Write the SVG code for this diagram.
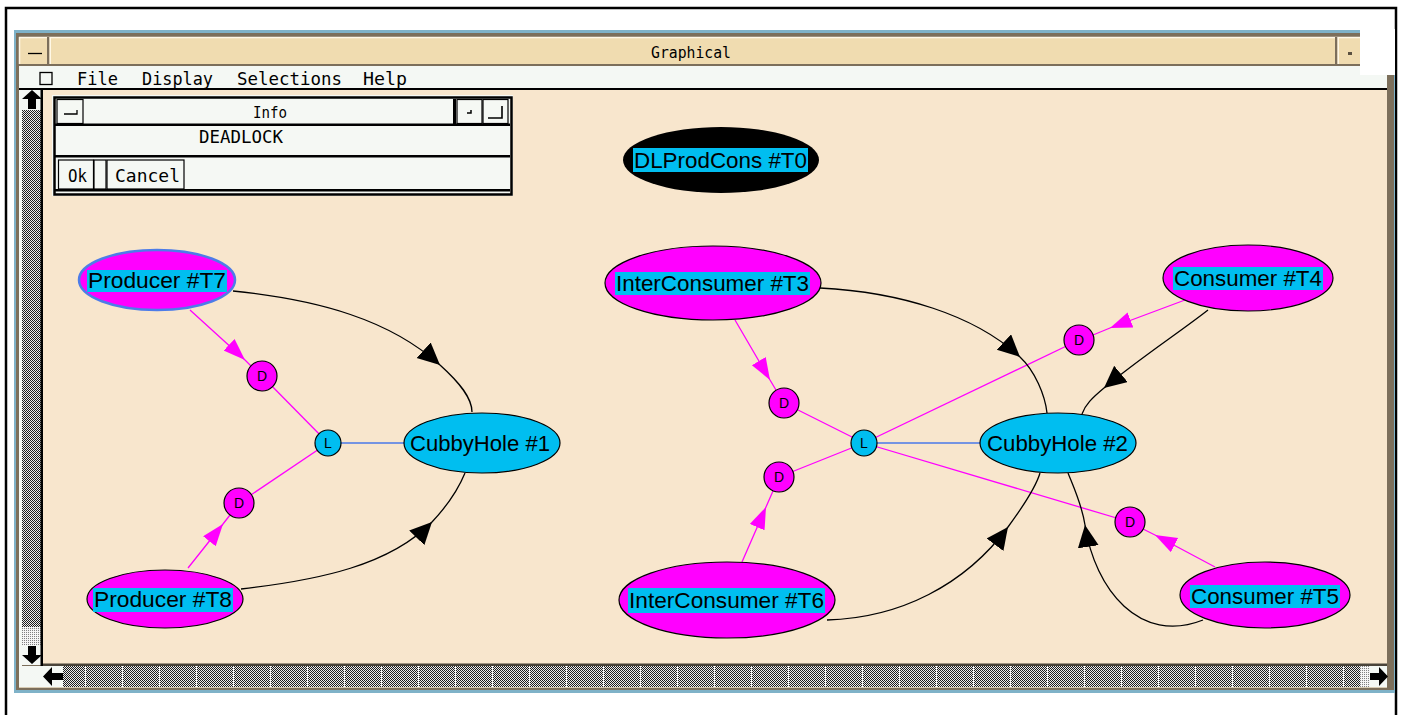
<svg xmlns="http://www.w3.org/2000/svg" width="1404" height="715" viewBox="0 0 1404 715">
  <defs>
    <pattern id="stipple" width="2" height="2" patternUnits="userSpaceOnUse">
      <rect width="2" height="2" fill="#ececec"/>
      <rect width="1" height="1" fill="#1e1e1e"/>
      <rect x="1" y="1" width="1" height="1" fill="#1e1e1e"/>
    </pattern>
    <pattern id="stippleLight" width="2" height="2" patternUnits="userSpaceOnUse">
      <rect width="2" height="2" fill="#f4f4f4"/>
      <rect width="1" height="1" fill="#808080"/>
    </pattern>
    <pattern id="ticks" width="37" height="4" patternUnits="userSpaceOnUse">
      <rect x="11" width="1" height="4" fill="#f4f4f4"/>
    </pattern>
    <marker id="ah-black" markerUnits="userSpaceOnUse" markerWidth="24" markerHeight="22" refX="22" refY="10.5" orient="auto">
      <path d="M0,0 L22,10.5 L0,21 Z" fill="#000"/>
    </marker>
    <marker id="ah-mag" markerUnits="userSpaceOnUse" markerWidth="24" markerHeight="18" refX="22" refY="8" orient="auto">
      <path d="M0,0 L22,8 L0,16 Z" fill="#ff00ff"/>
    </marker>
    <style>
      .mono { font-family: "DejaVu Sans Mono", "Liberation Mono", monospace; fill: #000; }
      .lbl { font-family: "Liberation Sans", Arial, sans-serif; font-size: 22px; fill: #000; }
      .tiny { font-family: "Liberation Sans", Arial, sans-serif; font-size: 14px; fill: #000; text-anchor: middle; }
      .task { fill: #ff00ff; stroke: #000; stroke-width: 1.2; }
      .res { fill: #00bef0; stroke: #000; stroke-width: 1.2; }
      .lblbg { fill: #00bef0; }
      .mag { fill: none; stroke: #ff00ff; stroke-width: 1.3; }
      .blk { fill: none; stroke: #000; stroke-width: 1.3; }
      .lnk { fill: none; stroke: #4a78e8; stroke-width: 1.6; }
      .btn { fill: #f5f8f4; stroke: #000; stroke-width: 1.2; }
      .bevel { fill: #7c6f5b; }
    </style>
  </defs>

  <!-- page background and frame -->
  <rect x="0" y="0" width="1404" height="715" fill="#fff"/>
  <path d="M6,715 V8 H1396 V715" fill="none" stroke="#000" stroke-width="2.5"/>

  <!-- application window -->
  <g id="window">
    <rect x="14" y="30" width="1381" height="663" fill="#7fb2c8"/>
    <rect x="16" y="33" width="1378" height="657" class="bevel"/>
    <!-- title bar -->
    <rect x="19" y="37" width="1341" height="27" fill="#f0dcb0"/>
    <path d="M19,37.5 H1360 M19.5,37 V64" stroke="#fff8e6" stroke-width="1.5"/>
    <rect x="47" y="37" width="2.5" height="27" class="bevel"/>
    <rect x="49.5" y="37" width="1.5" height="27" fill="#fff8e6"/>
    <rect x="1335" y="37" width="2.5" height="27" class="bevel"/>
    <rect x="1337.5" y="37" width="1.5" height="27" fill="#fff8e6"/>
    <path d="M28,53.5 H42" stroke="#000" stroke-width="1.3"/>
    <rect x="1348" y="52" width="4" height="3" fill="#5a5040"/>
    <text class="mono" x="651" y="58" font-size="15" textLength="80" lengthAdjust="spacingAndGlyphs">Graphical</text>
    <!-- menu bar -->
    <rect x="19" y="66" width="1368" height="22" fill="#f4f8f4"/>
    <rect x="19" y="88" width="1368" height="2" fill="#000"/>
    <rect x="40" y="72.5" width="12" height="12" fill="none" stroke="#000" stroke-width="1.3"/>
    <text class="mono" x="77" y="85" font-size="18" textLength="41" lengthAdjust="spacingAndGlyphs">File</text>
    <text class="mono" x="142" y="85" font-size="18" textLength="71" lengthAdjust="spacingAndGlyphs">Display</text>
    <text class="mono" x="237" y="85" font-size="18" textLength="105" lengthAdjust="spacingAndGlyphs">Selections</text>
    <text class="mono" x="363" y="85" font-size="18" textLength="44" lengthAdjust="spacingAndGlyphs">Help</text>
    <!-- drawing canvas -->
    <rect x="43" y="90" width="1344" height="575" fill="#f8e6cd"/>
    <!-- vertical scrollbar -->
    <rect x="19" y="90" width="3" height="598" fill="#f4f8f4"/>
    <rect x="22" y="90" width="19" height="575" fill="url(#stipple)"/>
    <rect x="22" y="627" width="19" height="18" fill="url(#stippleLight)"/>
    <rect x="22" y="90" width="19" height="20" fill="#f4f8f4"/>
    <path d="M32,90 L42,99 L36,99 L36,109 L28,109 L28,99 L22,99 Z" fill="#000"/>
    <rect x="22" y="645" width="19" height="20" fill="#f4f8f4"/>
    <path d="M32,664 L42,655 L36,655 L36,646 L28,646 L28,655 L22,655 Z" fill="#000"/>
    <rect x="40.5" y="90" width="2.5" height="576" fill="#000"/>
    <!-- horizontal scrollbar -->
    <rect x="43" y="663.5" width="1344" height="2.5" fill="#4a443a"/>
    <rect x="43" y="666" width="1344" height="21" fill="url(#stipple)"/>
    <rect x="43" y="666" width="1344" height="21" fill="url(#ticks)"/>
    <rect x="1360" y="666" width="10" height="21" fill="url(#stippleLight)"/>
    <rect x="43" y="666" width="20" height="21" fill="#f4f8f4"/>
    <path d="M43,676.5 L52,667 L52,673 L63,673 L63,680 L52,680 L52,686 Z" fill="#000"/>
    <rect x="1370" y="666" width="17" height="21" fill="#f4f8f4"/>
    <path d="M1388,676.5 L1379,667 L1379,673 L1370,673 L1370,680 L1379,680 L1379,686 Z" fill="#000"/>
    <rect x="22" y="666" width="21" height="21" fill="#f4f8f4"/>
    <path d="M19,687.5 H1387" stroke="#d8ccb4" stroke-width="1"/>
    <!-- corner cut at top right -->
    <rect x="1360" y="29" width="35" height="46" fill="#fff"/>
  </g>

  <!-- info dialog -->
  <g id="info-dialog">
    <rect x="52" y="95" width="461" height="101" fill="#f5f8f4"/>
    <rect x="54.5" y="97.5" width="457" height="97" fill="none" stroke="#000" stroke-width="2.5"/>
    <rect x="57" y="99.5" width="26" height="24" class="btn"/>
    <path d="M64,114 H77 V110" fill="none" stroke="#000" stroke-width="1.3"/>
    <rect x="84" y="99.5" width="370" height="24" fill="#f5f8f4"/>
    <rect x="453" y="99" width="3" height="26" fill="#000"/>
    <rect x="457" y="99.5" width="25" height="24" class="btn"/>
    <path d="M467,113 H471 V110" fill="none" stroke="#000" stroke-width="1.5"/>
    <rect x="483" y="99.5" width="25" height="24" class="btn"/>
    <path d="M488,118 H502 V106" fill="none" stroke="#000" stroke-width="1.6"/>
    <rect x="55" y="123.5" width="455" height="2.5" fill="#000"/>
    <rect x="55" y="155" width="455" height="2.5" fill="#000"/>
    <rect x="58.5" y="160" width="35" height="29" class="btn"/>
    <rect x="94" y="160" width="12" height="29" class="btn"/>
    <rect x="107" y="160" width="77" height="29" class="btn"/>
    <rect x="55" y="189" width="455" height="2.5" fill="#000"/>
    <text class="mono" x="253" y="118" font-size="16" textLength="34" lengthAdjust="spacingAndGlyphs">Info</text>
    <text class="mono" x="199" y="143" font-size="17" textLength="84" lengthAdjust="spacingAndGlyphs">DEADLOCK</text>
    <text class="mono" x="68" y="182" font-size="17" textLength="19" lengthAdjust="spacingAndGlyphs">Ok</text>
    <text class="mono" x="115" y="182" font-size="17" textLength="65" lengthAdjust="spacingAndGlyphs">Cancel</text>
  </g>

  <!-- connectors -->
  <g id="connectors">
    <!-- lock links -->
    <path class="lnk" d="M328,443 H482"/>
    <path class="lnk" d="M864,443 H1058"/>
    <!-- dependency links to the locks -->
    <path class="mag" d="M262,376 L328,443"/>
    <path class="mag" d="M239,503 L328,443"/>
    <path class="mag" d="M784,403 L864,443"/>
    <path class="mag" d="M779,477 L864,443"/>
    <path class="mag" d="M864,443 L1079,340"/>
    <path class="mag" d="M864,443 L1130,522"/>
    <!-- task to dependency -->
    <path class="mag" marker-mid="url(#ah-mag)" d="M190,310 L245,360 L251,366"/>
    <path class="mag" marker-mid="url(#ah-mag)" d="M188,568 L223,524 L230,515"/>
    <path class="mag" marker-mid="url(#ah-mag)" d="M735,320 L770,380 L776,390"/>
    <path class="mag" marker-mid="url(#ah-mag)" d="M742,562 L766,507 L773,491"/>
    <path class="mag" marker-mid="url(#ah-mag)" d="M1185,300 L1110,328 L1093,335"/>
    <path class="mag" marker-mid="url(#ah-mag)" d="M1215,567 L1155,535 L1143,529"/>
    <!-- task to resource -->
    <path class="blk" marker-mid="url(#ah-black)" d="M233,291 C320,300 390,320 440,365 C460,383 472,398 472,412"/>
    <path class="blk" marker-mid="url(#ah-black)" d="M241,589 C320,580 390,565 432,522 C448,505 458,490 465,473"/>
    <path class="blk" marker-mid="url(#ah-black)" d="M820,288 C900,292 975,315 1020,357 C1035,371 1045,395 1047,413"/>
    <path class="blk" marker-mid="url(#ah-black)" d="M1208,310 C1180,332 1140,358 1104,388 C1092,398 1085,405 1082,414"/>
    <path class="blk" marker-mid="url(#ah-black)" d="M827,620 C900,618 965,585 1008,527 C1019,512 1035,490 1040,473"/>
    <path class="blk" marker-mid="url(#ah-black)" d="M1203,620 C1140,645 1095,590 1085,525 C1082,505 1074,488 1068,473"/>
  </g>

  <!-- nodes -->
  <g id="node-t0">
    <ellipse cx="721" cy="160" rx="98" ry="33" fill="#000"/>
    <rect class="lblbg" x="633" y="148" width="175" height="24"/>
    <text class="lbl" x="634" y="168" textLength="173" lengthAdjust="spacingAndGlyphs">DLProdCons #T0</text>
  </g>
  <g id="node-t7">
    <ellipse cx="157" cy="280" rx="78" ry="30" fill="#ff00ff" stroke="#4d7ce8" stroke-width="2.5"/>
    <rect class="lblbg" x="87" y="270" width="140" height="22"/>
    <text class="lbl" x="88" y="288" textLength="138" lengthAdjust="spacingAndGlyphs">Producer #T7</text>
  </g>
  <g id="node-t8">
    <ellipse class="task" cx="165" cy="599" rx="78" ry="29"/>
    <rect class="lblbg" x="93" y="588" width="140" height="24"/>
    <text class="lbl" x="94" y="607" textLength="138" lengthAdjust="spacingAndGlyphs">Producer #T8</text>
  </g>
  <g id="node-ch1">
    <ellipse class="res" cx="482" cy="443" rx="78" ry="30"/>
    <text class="lbl" x="410" y="451" textLength="140" lengthAdjust="spacingAndGlyphs">CubbyHole #1</text>
  </g>
  <g id="node-l1">
    <circle class="res" cx="328" cy="443" r="13"/>
    <text class="tiny" x="328" y="448">L</text>
  </g>
  <g id="node-d1">
    <circle class="task" cx="262" cy="376" r="15"/>
    <text class="tiny" x="262" y="381">D</text>
  </g>
  <g id="node-d2">
    <circle class="task" cx="239" cy="503" r="15"/>
    <text class="tiny" x="239" y="508">D</text>
  </g>
  <g id="node-t3">
    <ellipse class="task" cx="713" cy="283" rx="108" ry="37"/>
    <rect class="lblbg" x="615" y="272" width="195" height="23"/>
    <text class="lbl" x="616" y="291" textLength="193" lengthAdjust="spacingAndGlyphs">InterConsumer #T3</text>
  </g>
  <g id="node-t6">
    <ellipse class="task" cx="727" cy="600" rx="108" ry="38"/>
    <rect class="lblbg" x="628" y="588" width="197" height="25"/>
    <text class="lbl" x="629" y="608" textLength="195" lengthAdjust="spacingAndGlyphs">InterConsumer #T6</text>
  </g>
  <g id="node-t4">
    <ellipse class="task" cx="1248" cy="278" rx="85" ry="33"/>
    <rect class="lblbg" x="1173" y="267" width="150" height="23"/>
    <text class="lbl" x="1174" y="286" textLength="148" lengthAdjust="spacingAndGlyphs">Consumer #T4</text>
  </g>
  <g id="node-t5">
    <ellipse class="task" cx="1265" cy="595" rx="85" ry="33"/>
    <rect class="lblbg" x="1190" y="585" width="150" height="23"/>
    <text class="lbl" x="1191" y="604" textLength="148" lengthAdjust="spacingAndGlyphs">Consumer #T5</text>
  </g>
  <g id="node-ch2">
    <ellipse class="res" cx="1058" cy="443" rx="78" ry="30"/>
    <text class="lbl" x="987" y="451" textLength="141" lengthAdjust="spacingAndGlyphs">CubbyHole #2</text>
  </g>
  <g id="node-l2">
    <circle class="res" cx="864" cy="443" r="13"/>
    <text class="tiny" x="864" y="448">L</text>
  </g>
  <g id="node-d3">
    <circle class="task" cx="784" cy="403" r="15"/>
    <text class="tiny" x="784" y="408">D</text>
  </g>
  <g id="node-d4">
    <circle class="task" cx="779" cy="477" r="15"/>
    <text class="tiny" x="779" y="482">D</text>
  </g>
  <g id="node-d5">
    <circle class="task" cx="1079" cy="340" r="15"/>
    <text class="tiny" x="1079" y="345">D</text>
  </g>
  <g id="node-d6">
    <circle class="task" cx="1130" cy="522" r="15"/>
    <text class="tiny" x="1130" y="527">D</text>
  </g>
</svg>
